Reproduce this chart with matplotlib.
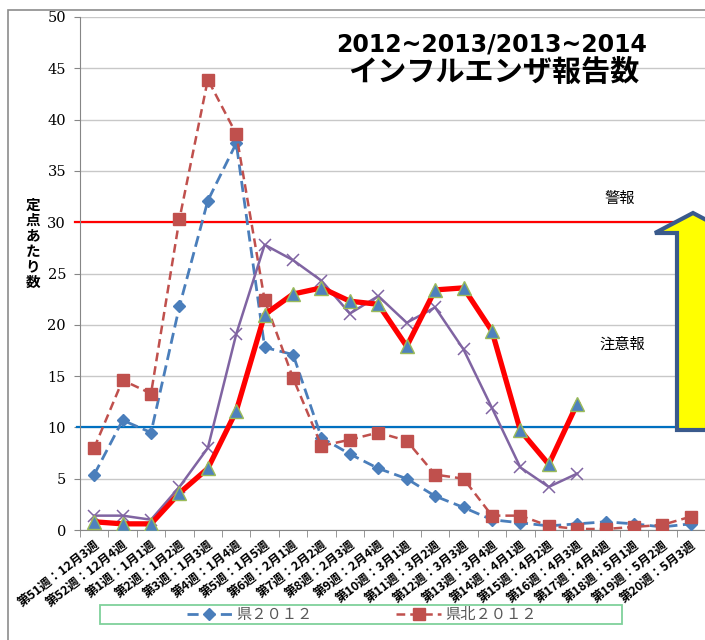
import numpy as np
import matplotlib.pyplot as plt
from matplotlib.patches import Rectangle, Polygon

# 週ラベル
weeks = ['第51週：12月3週', '第52週：12月4週', '第1週：1月1週', '第2週：1月2週',
         '第3週：1月3週', '第4週：1月4週', '第5週：1月5週', '第6週：2月1週',
         '第7週：2月2週', '第8週：2月3週', '第9週：2月4週', '第10週：3月1週',
         '第11週：3月2週', '第12週：3月3週', '第13週：3月4週', '第14週：4月1週',
         '第15週：4月2週', '第16週：4月3週', '第17週：4月4週', '第18週：5月1週',
         '第19週：5月2週', '第20週：5月3週']

ken2012 = [5.4, 10.7, 9.5, 21.8, 32.1, 37.7, 17.8, 17.1, 9.0, 7.4, 6.0,
           5.0, 3.3, 2.2, 1.0, 0.7, 0.4, 0.6, 0.8, 0.6, 0.3, 0.6]
kenpoku2012 = [8.0, 14.6, 13.3, 30.3, 43.9, 38.6, 22.4, 14.8, 8.2, 8.8, 9.5,
               8.7, 5.4, 5.0, 1.4, 1.4, 0.4, 0.1, 0.1, 0.3, 0.5, 1.3]
ken2013 = [0.8, 0.6, 0.6, 3.6, 6.0, 11.6, 21.0, 23.0, 23.6, 22.3, 22.0,
           17.9, 23.4, 23.6, 19.4, 9.7, 6.4, 12.3]
kenpoku2013 = [1.4, 1.4, 1.0, 4.2, 8.0, 19.1, 27.8, 26.3, 24.3, 21.1, 22.8,
               20.2, 21.7, 17.6, 11.9, 6.1, 4.2, 5.5]

keihou = 30     # 警報レベル
chuuihou = 10   # 注意報レベル

jp = ['Noto Sans CJK JP', 'DejaVu Sans']
plt.rcParams['font.family'] = jp

fig = plt.figure(figsize=(7.05, 6.4), dpi=100)
W, H = 705, 640

# 外枠
fig.patches.append(Rectangle((8 / W, -0.05), 1.1, 1 - 10 / H + 0.05, transform=fig.transFigure,
                             fill=False, edgecolor='#8c8c8c', linewidth=1.2))

ax = fig.add_axes([80 / W, 1 - 530 / H, 625 / W, 513 / H])
x = np.arange(len(weeks))

ax.axhline(keihou, xmin=-0.008, color='#ff0000', linewidth=1.6, clip_on=False, zorder=2)
ax.axhline(chuuihou, xmin=-0.005, color='#0070c0', linewidth=1.6, clip_on=False, zorder=2)

ax.plot(x, ken2012, color='#4a7ebb', linestyle=(0, (4, 2)), linewidth=2.0,
        marker='D', markersize=6, markerfacecolor='#4a7ebb', markeredgecolor='#4a7ebb',
        label='県２０１２', zorder=3)
ax.plot(x, kenpoku2012, color='#c0504d', linestyle=(0, (3.5, 2)), linewidth=1.8,
        marker='s', markersize=8.5, markerfacecolor='#c0504d', markeredgecolor='#c0504d',
        label='県北２０１２', zorder=4)
ax.plot(x[:len(kenpoku2013)], kenpoku2013, color='#8064a2', linewidth=1.8,
        marker='x', markersize=9, markeredgewidth=1.1, label='県北２０１３', zorder=5)
ax.plot(x[:len(ken2013)], ken2013, color='#ff0000', linewidth=3.8,
        marker='^', markersize=10, markerfacecolor='#4f81bd', markeredgecolor='#9bbb59',
        markeredgewidth=1, label='県２０１３', zorder=6)

ax.set_xlim(-0.5, len(weeks) - 0.5)
ax.set_ylim(0, 50)
ax.set_yticks(np.arange(0, 51, 5))
ax.set_yticklabels([str(v) for v in range(0, 51, 5)])
for t in ax.get_yticklabels():
    t.set_fontfamily('DejaVu Serif')
    t.set_fontsize(10.5)
ax.tick_params(axis='y', length=4, color='#868686', pad=6)
ax.grid(axis='y', color='#c8c8c8', linewidth=1)
ax.set_axisbelow(True)

ax.set_xticks(x)
ax.set_xticklabels(weeks, rotation=38, ha='right', va='top', rotation_mode='anchor',
                   fontsize=9, fontweight='bold')
ax.set_xticks(np.arange(-0.5, len(weeks), 1), minor=True)
ax.tick_params(axis='x', which='major', length=0, pad=6)
ax.tick_params(axis='x', which='minor', length=5, color='#868686')

for s in ['top', 'right']:
    ax.spines[s].set_visible(False)
for s in ['left', 'bottom']:
    ax.spines[s].set_color('#868686')

# タイトル
fig.text(492 / W, 1 - 44 / H, '2012~2013/2013~2014', ha='center', va='center',
         fontsize=17, fontweight='bold', fontfamily='DejaVu Sans')
fig.text(494 / W, 1 - 72 / H, 'インフルエンザ報告数', ha='center', va='center',
         fontsize=21, fontweight='bold')

# 縦書きの軸ラベル
fig.text(33 / W, 1 - 243 / H, '\n'.join('定点あたり数'), ha='center', va='center',
         fontsize=10.5, fontweight='bold', linespacing=0.95)

fig.text(620 / W, 1 - 198 / H, '警報', ha='center', va='center', fontsize=11)
fig.text(622 / W, 1 - 344 / H, '注意報', ha='center', va='center', fontsize=11)

# 黄色い矢印
arrow = [(677, 430), (677, 233), (655, 233), (693, 213), (731, 233), (709, 233), (709, 430)]
fig.patches.append(Polygon([(px / W, 1 - py / H) for px, py in arrow], closed=True,
                           transform=fig.transFigure, facecolor='#ffff00',
                           edgecolor='#3a5a8c', linewidth=3, zorder=10))

# 凡例
fig.patches.append(Rectangle((100 / W, 1 - 624 / H), 522 / W, 19 / H, transform=fig.transFigure,
                             fill=False, edgecolor='#7fd19b', linewidth=1.3))
h, l = ax.get_legend_handles_labels()
fig.legend(h[:2], l[:2], loc='center', bbox_to_anchor=(362 / W, 1 - 614.5 / H), ncol=2,
           frameon=False, fontsize=11, handlelength=2.9, columnspacing=5.5,
           handletextpad=0.3, labelcolor='#595959')

fig.savefig('out.png', dpi=100)
